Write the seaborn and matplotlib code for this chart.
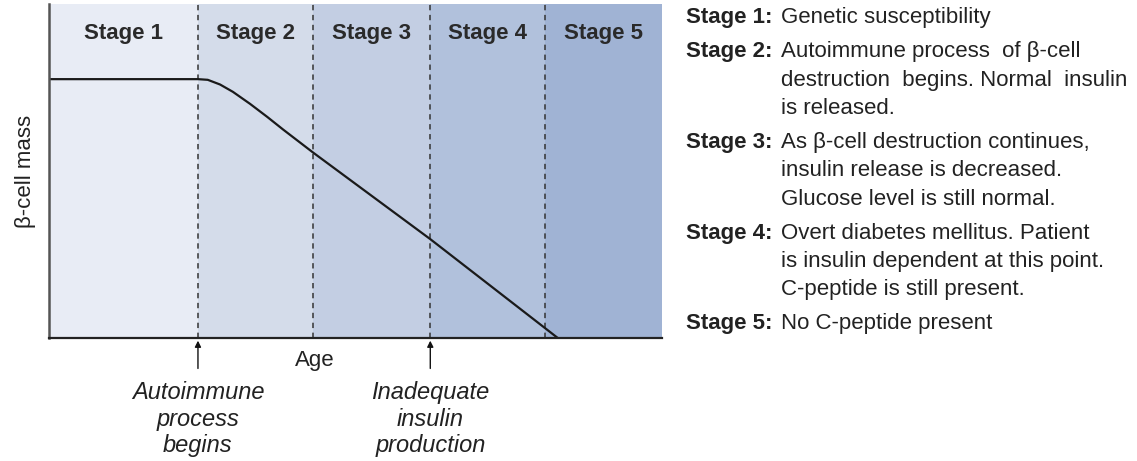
import numpy as np
import pandas as pd
import matplotlib.pyplot as plt
import seaborn as sns

# stage bands along the age axis (0-100 arbitrary units)
stage_names = ["Stage 1", "Stage 2", "Stage 3", "Stage 4", "Stage 5"]
stage_edges = [0, 24.3, 43.1, 62.2, 80.9, 100]
stage_colors = ["#e8ecf5", "#d4dcea", "#c3cee3", "#b1c1dc", "#a0b3d4"]

# beta-cell mass curve
age = [0, 24.3, 25.9, 27.9, 30.0, 32.8, 35.6, 38.2, 43.1, 62.2, 83.0]
beta_mass = [77.5, 77.5, 77.3, 75.9, 73.7, 70.1, 66.2, 62.4, 55.5, 29.6, 0]

arrow_ages = [24.3, 62.2]
arrow_labels = ["Autoimmune\nprocess\nbegins", "Inadequate\ninsulin\nproduction"]

note_heads = ["Stage 1:", "Stage 2:", "Stage 3:", "Stage 4:", "Stage 5:"]
note_lines = [
    ["Genetic susceptibility"],
    ["Autoimmune process  of β-cell", "destruction  begins. Normal  insulin", "is released."],
    ["As β-cell destruction continues,", "insulin release is decreased.", "Glucose level is still normal."],
    ["Overt diabetes mellitus. Patient", "is insulin dependent at this point.", "C-peptide is still present."],
    ["No C-peptide present"],
]

sns.set_style("white")
plt.rcParams["font.family"] = ["Liberation Sans", "DejaVu Sans"]

W, H = 1137, 461
fig = plt.figure(figsize=(W / 100, H / 100), dpi=100)
ax = fig.add_axes([49 / W, 123 / H, 613 / W, 334 / H])

for i, name in enumerate(stage_names):
    lo, hi = stage_edges[i], stage_edges[i + 1]
    ax.axvspan(lo, hi, color=stage_colors[i], lw=0)
    ax.text((lo + hi) / 2, 91.3, name, ha="center", va="center",
            fontsize=16, fontweight="bold", color="#2a2a2a")
for e in stage_edges[1:-1]:
    ax.axvline(e, color="#333333", lw=1.1, ls=(0, (3.5, 3)))

df = pd.DataFrame({"age": age, "mass": beta_mass})
sns.lineplot(data=df, x="age", y="mass", ax=ax, color="#1a1a1a", lw=1.6)

ax.set_xlim(0, 100)
ax.set_ylim(0, 100)
ax.set_xticks([])
ax.set_yticks([])
for s in ["top", "right"]:
    ax.spines[s].set_visible(False)
ax.spines["left"].set_color("#555555")
ax.spines["left"].set_linewidth(1.8)
ax.spines["bottom"].set_color("#222222")
ax.spines["bottom"].set_linewidth(1.6)

ax.set_xlabel("Age", fontsize=16, color="#222222")
ax.xaxis.set_label_coords(0.434, -0.035)
ax.set_ylabel("β-cell mass", fontsize=16, color="#222222")
ax.yaxis.set_label_coords(-0.022, 0.5)

for a, lab in zip(arrow_ages, arrow_labels):
    ax.annotate("", xy=(a, -0.008), xycoords=("data", "axes fraction"),
                xytext=(0, -20), textcoords="offset points", annotation_clip=False,
                arrowprops=dict(arrowstyle="-|>", color="#111111", lw=1,
                                shrinkA=0, shrinkB=0, mutation_scale=9))
    ax.annotate(lab, xy=(a, 0), xycoords=("data", "axes fraction"),
                xytext=(0, -31), textcoords="offset points", annotation_clip=False,
                ha="center", va="top", fontsize=17, style="italic",
                linespacing=1.2, color="#222222")

# stage notes on the right
y = 18
for head, lines in zip(note_heads, note_lines):
    fig.text(686 / W, 1 - y / H, head, ha="left", va="center",
             fontsize=16, fontweight="bold", color="#222222")
    for j, line in enumerate(lines):
        fig.text(781 / W, 1 - (y + j * 28.3) / H, line, ha="left", va="center",
                 fontsize=16, color="#222222")
    y += (len(lines) - 1) * 28.3 + 34

fig.savefig("out.png", dpi=100)
